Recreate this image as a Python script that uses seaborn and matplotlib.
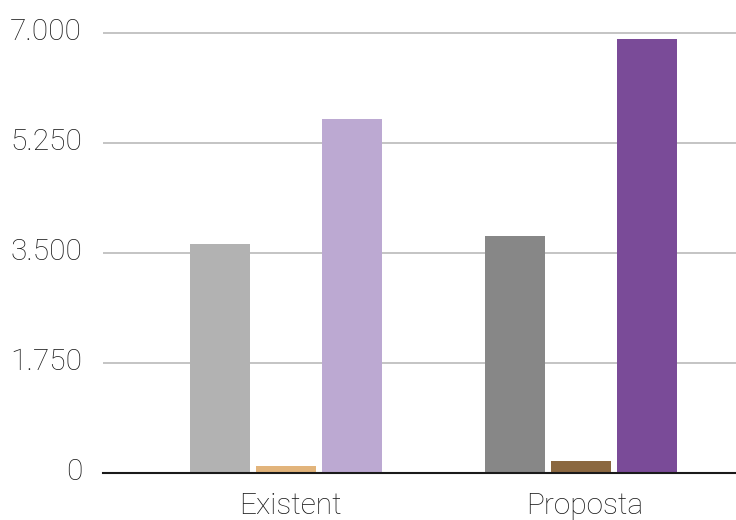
import matplotlib
matplotlib.use("Agg")
import matplotlib.pyplot as plt
import matplotlib.transforms as mtransforms
import seaborn as sns
import pandas as pd

# Data
categories = ["Existent", "Proposta"]
series = ["Sèrie 1", "Sèrie 2", "Sèrie 3"]
existent_values = [3635, 100, 5625]
proposta_values = [3760, 180, 6900]
y_ticks = [0, 1750, 3500, 5250, 7000]
y_tick_labels = ["0", "1.750", "3.500", "5.250", "7.000"]

# Per-bar colours: light shades for "Existent", dark shades for "Proposta"
existent_colors = ["#b2b2b2", "#e2b47b", "#bca9d2"]
proposta_colors = ["#878787", "#8b6840", "#7a4b98"]

rows = []
for s, v in zip(series, existent_values):
    rows.append({"categoria": categories[0], "serie": s, "valor": v})
for s, v in zip(series, proposta_values):
    rows.append({"categoria": categories[1], "serie": s, "valor": v})
df = pd.DataFrame(rows)

sns.set_theme(style="white")
plt.rcParams["font.family"] = ["Roboto", "DejaVu Sans"]

W, H = 736, 520
fig = plt.figure(figsize=(W / 100, H / 100), dpi=100)

y0_px, y7000_px = 472.5, 32.7
ymax = 7400
px_per_unit = (y0_px - y7000_px) / 7000
ax_h_px = ymax * px_per_unit
ax_left_px = 103
ax = fig.add_axes([ax_left_px / W, (H - y0_px) / H, 1 - ax_left_px / W, ax_h_px / H])

sns.barplot(data=df, x="categoria", y="valor", hue="serie", order=categories,
            hue_order=series, width=0.671, gap=0.091, legend=False,
            palette=["#999999"] * 3, ax=ax, errorbar=None, saturation=1)

# Recolour each bar according to its group and series
bars = [p for p in ax.patches if p.get_height() > 0]
bars.sort(key=lambda p: p.get_x())
palette_seq = existent_colors + proposta_colors
for p, c in zip(bars, palette_seq):
    p.set_facecolor(c)
    p.set_edgecolor("none")

# x-range so that group centres sit where they belong
group_px = 295.0
centre0_px = 286.0
ax.set_xlim(-(centre0_px - ax_left_px) / group_px, (W - centre0_px) / group_px)
ax.set_ylim(0, ymax)

ax.set_yticks(y_ticks)
ax.set_yticklabels(y_tick_labels)
ax.yaxis.grid(True, color="#bfbfbf", linewidth=1.3)
ax.set_axisbelow(True)
ax.tick_params(axis="y", length=0, pad=15, labelsize=21.5, labelcolor="#1a1a1a")
ax.tick_params(axis="x", length=0, pad=14, labelsize=21.5, labelcolor="#1a1a1a")
for lbl in ax.get_yticklabels() + ax.get_xticklabels():
    lbl.set_fontweight("light")
y_offset = mtransforms.ScaledTranslation(0, 4 / 100, fig.dpi_scale_trans)
for lbl in ax.get_yticklabels():
    lbl.set_transform(lbl.get_transform() + y_offset)
x_offset = mtransforms.ScaledTranslation(4 / 100, 0, fig.dpi_scale_trans)
for lbl in ax.get_xticklabels():
    lbl.set_transform(lbl.get_transform() + x_offset)

ax.set_xlabel("")
ax.set_ylabel("")
for side in ["top", "right", "left"]:
    ax.spines[side].set_visible(False)
ax.spines["bottom"].set_color("#1a1a1a")
ax.spines["bottom"].set_linewidth(1.5)

fig.savefig("out.png", dpi=100, facecolor="white")
